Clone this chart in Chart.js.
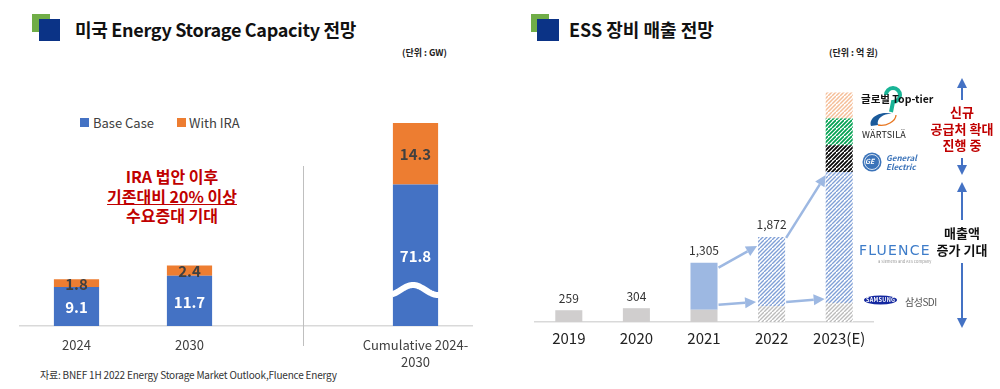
<!DOCTYPE html>
<html><head><meta charset="utf-8">
<script src="https://cdn.jsdelivr.net/npm/chart.js@4"></script>
<style>
body{margin:0;width:1000px;height:389px;position:relative;background:#fff;font-family:"Noto Sans CJK KR","Noto Sans",sans-serif;overflow:hidden}
.a{position:absolute;white-space:nowrap}
canvas{position:absolute;top:0}
</style></head><body>
<!-- titles -->
<div class="a" style="left:32px;top:14px;width:18px;height:18px;background:#70AD47"></div>
<div class="a" style="left:39px;top:19px;width:21px;height:22px;background:#0B3386"></div>
<div class="a" style="left:75px;top:16px;font-size:18px;font-weight:700;color:#111;line-height:26px;letter-spacing:-0.3px">미국 Energy Storage Capacity 전망</div>
<div class="a" style="left:531px;top:14px;width:18px;height:18px;background:#70AD47"></div>
<div class="a" style="left:537px;top:19px;width:22px;height:22px;background:#0B3386"></div>
<div class="a" style="left:569px;top:16px;font-size:18px;font-weight:700;color:#111;line-height:26px">ESS 장비 매출 전망</div>
<div class="a" style="left:402px;top:46px;font-size:9px;font-weight:700;color:#222">(단위 : GW)</div>
<div class="a" style="left:829px;top:46px;font-size:9px;font-weight:700;color:#222">(단위 : 억 원)</div>

<!-- legend -->
<div class="a" style="left:80px;top:118px;width:9px;height:9px;background:#4472C4"></div>
<div class="a" style="left:93px;top:114px;font-size:13px;color:#404040;line-height:18px">Base Case</div>
<div class="a" style="left:177px;top:118px;width:9px;height:9px;background:#ED7D31"></div>
<div class="a" style="left:189px;top:114px;font-size:13px;color:#404040;line-height:18px">With IRA</div>

<!-- red note -->
<div class="a" style="left:72px;width:200px;top:167px;text-align:center;font-size:16px;font-weight:700;color:#C00000;line-height:19.5px">IRA 법안 이후<br><span style="text-decoration:underline">기존대비 20% 이상</span><br>수요증대 기대</div>

<div class="a" style="left:40px;top:367px;font-size:10px;color:#333;letter-spacing:-0.2px">자료: BNEF 1H 2022 Energy Storage Market Outlook,Fluence Energy</div>

<canvas id="left" width="500" height="389" style="left:0"></canvas>
<canvas id="right" width="500" height="389" style="left:500px"></canvas>

<!-- logos -->
<svg class="a" style="left:0;top:0" width="1000" height="389">
  <path d="M886 95 A7 7 0 1 1 893 102 L891 112" fill="none" stroke="#19B496" stroke-width="4"/>
  <path d="M871 126 C 868 118, 880 110, 893 114 C 885 113, 876 118, 878 125 Z" fill="#1B5A9A"/>
  <path d="M878 125 C 886 127, 896 121, 896 115" fill="none" stroke="#E87722" stroke-width="1.3"/>
  <circle cx="872" cy="162" r="9.5" fill="#3B73B9"/>
  <circle cx="872" cy="162" r="7.5" fill="none" stroke="#fff" stroke-width="0.8"/>
  <ellipse cx="880.5" cy="300" rx="16.5" ry="4.5" fill="#1428A0"/>
  <!-- vertical arrows -->
  <g stroke="#4472C4" stroke-width="2" fill="#4472C4">
    <line x1="962" y1="87" x2="962" y2="100"/>
    <polygon points="962,78 957,88 967,88" stroke="none"/>
    <line x1="962" y1="158" x2="962" y2="166"/>
    <polygon points="962,175 957,165 967,165" stroke="none"/>
    <line x1="962" y1="191" x2="962" y2="220"/>
    <polygon points="962,182 957,192 967,192" stroke="none"/>
    <line x1="962" y1="263" x2="962" y2="319"/>
    <polygon points="962,328 957,318 967,318" stroke="none"/>
  </g>
</svg>
<div class="a" style="left:861px;top:91px;font-size:10.5px;font-weight:700;color:#111;line-height:16px">글로벌 Top-tier</div>
<div class="a" style="left:862px;top:129px;font-size:9px;color:#222;letter-spacing:0.2px;line-height:12px">WÄRTSILÄ</div>
<div class="a" style="left:865px;top:156px;font-size:7px;font-style:italic;font-weight:700;color:#fff;line-height:10px">GE</div>
<div class="a" style="left:886px;top:153px;font-size:8px;font-style:italic;font-weight:700;color:#3B73B9;line-height:9px">General<br>Electric</div>
<div class="a" style="left:859px;top:241px;font-size:14px;color:#3D7CC9;letter-spacing:1.2px;line-height:18px;font-family:'DejaVu Sans'">FLUENCE</div>
<div class="a" style="left:878px;top:259px;font-size:4px;color:#999;line-height:5px">a Siemens and AES company</div>
<div class="a" style="left:866px;top:296px;font-size:5.5px;font-weight:700;color:#fff;line-height:8px;letter-spacing:0.3px">SAMSUNG</div>
<div class="a" style="left:905px;top:295px;font-size:10px;color:#555;line-height:14px;letter-spacing:-0.5px">삼성SDI</div>

<div class="a" style="left:912px;width:100px;top:104px;text-align:center;font-size:13px;font-weight:700;color:#C00000;line-height:16.5px">신규<br>공급처 확대<br>진행 중</div>
<div class="a" style="left:912px;width:100px;top:224px;text-align:center;font-size:13px;font-weight:700;color:#111;line-height:17px">매출액<br>증가 기대</div>

<script>
// ---------- LEFT CHART DATA ----------
const leftCategories = ['2024', '2030', '', ['Cumulative 2024-', '2030']];
const baseCase = [9.1, 11.7, null, 71.8];
const withIRA = [1.8, 2.4, null, 14.3];
const axisBreakAt = 33; // bars taller than this are drawn with an axis break

// ---------- RIGHT CHART DATA ----------
const years = ['2019', '2020', '2021', '2022', '2023(E)'];
const samsungSDI = [259, 304, 270, 350, 420];
const fluence = [null, null, 1035, 1522, 2880];
const generalElectric = [null, null, null, null, 590];
const wartsila = [null, null, null, null, 590];
const topTier = [null, null, null, null, 570];
const totalLabels = [259, 304, 1305, 1872, null];

const FONT = '"Noto Sans CJK KR","Noto Sans",sans-serif';

function hatch(color, lw) {
  const s = 8;
  const c = document.createElement('canvas');
  c.width = s; c.height = s;
  const x = c.getContext('2d');
  x.fillStyle = '#fff'; x.fillRect(0, 0, s, s);
  x.strokeStyle = color; x.lineWidth = lw;
  x.beginPath();
  // two stripes per tile => 4px period
  [-4, 0, 4, 8].forEach(o => { x.moveTo(o, s); x.lineTo(o + s, 0); });
  x.stroke();
  return document.getElementById('left').getContext('2d').createPattern(c, 'repeat');
}

// ---------- LEFT CHART ----------
const leftPlugin = {
  id: 'leftDeco',
  afterDatasetsDraw(chart) {
    const ctx = chart.ctx;
    const xs = chart.scales.x;
    const dx = Math.round(xs.getPixelForValue(2)) + 0.5;
    ctx.save();
    ctx.strokeStyle = '#BFBFBF'; ctx.lineWidth = 1;
    ctx.beginPath(); ctx.moveTo(dx, 166); ctx.lineTo(dx, 346); ctx.stroke();
    const meta0 = chart.getDatasetMeta(0);
    baseCase.forEach((v, i) => {
      if (v != null && v > axisBreakAt) {
        const el = meta0.data[i];
        const x0 = el.x - el.width / 2 - 1, w = el.width + 2;
        const cy = chart.scales.y.getPixelForValue(8.4);
        ctx.strokeStyle = '#fff'; ctx.lineWidth = 6;
        ctx.beginPath();
        for (let k = 0; k <= 40; k++) {
          const px = x0 + w * k / 40;
          const py = cy + 5 * Math.cos(Math.PI * 0.15 + 2 * Math.PI * k / 40 * 0.95);
          k ? ctx.lineTo(px, py) : ctx.moveTo(px, py);
        }
        ctx.stroke();
      }
    });
    ctx.textAlign = 'center'; ctx.textBaseline = 'middle';
    ctx.font = 'bold 15px ' + FONT;
    chart.data.datasets.forEach((ds, di) => {
      const meta = chart.getDatasetMeta(di);
      meta.data.forEach((el, i) => {
        const v = ds.rawValues[i];
        if (v == null) return;
        ctx.fillStyle = ds.labelColor;
        ctx.fillText(v.toFixed(1), el.x, (el.y + el.base) / 2 + 1);
      });
    });
    ctx.restore();
  }
};

new Chart(document.getElementById('left'), {
  type: 'bar',
  data: {
    labels: leftCategories,
    datasets: [
      { label: 'Base Case', data: baseCase.map(v => v == null ? null : Math.min(v, axisBreakAt)),
        rawValues: baseCase, backgroundColor: '#4472C4', labelColor: '#fff' },
      { label: 'With IRA', data: withIRA, rawValues: withIRA, backgroundColor: '#ED7D31', labelColor: '#404040' }
    ]
  },
  options: {
    responsive: false, animation: false,
    layout: { padding: { left: 20, right: 28, top: 60, bottom: 0 } },
    datasets: { bar: { barPercentage: 0.4, categoryPercentage: 1 } },
    plugins: { legend: { display: false }, tooltip: { enabled: false } },
    scales: {
      x: { stacked: true, grid: { display: false, drawTicks: false },
        border: { color: '#D9D9D9', width: 1.5 },
        ticks: { color: '#404040', padding: 11, font: { family: FONT, size: 13, lineHeight: 1.3 } },
        afterFit(s) { s.height = 63; } },
      y: { stacked: true, display: false, min: 0, max: 62 }
    }
  },
  plugins: [leftPlugin]
});

// ---------- RIGHT CHART ----------
const gray = '#D0CECE';
const pGray = hatch('#BBBBBB', 1.4);
const pBlue = hatch('#7F9FD6', 1.4);
const pBlack = hatch('#000', 1.6);
const pGreen = hatch('#00A050', 1.7);
const pOrange = hatch('#F5BE98', 1.5);

function arrow(ctx, x1, y1, x2, y2) {
  const ang = Math.atan2(y2 - y1, x2 - x1);
  const L = 11, W = 5.5;
  const bx = x2 - L * Math.cos(ang), by = y2 - L * Math.sin(ang);
  ctx.beginPath(); ctx.moveTo(x1, y1); ctx.lineTo(bx, by); ctx.stroke();
  ctx.beginPath();
  ctx.moveTo(x2, y2);
  ctx.lineTo(bx + W * Math.sin(ang), by - W * Math.cos(ang));
  ctx.lineTo(bx - W * Math.sin(ang), by + W * Math.cos(ang));
  ctx.closePath(); ctx.fill();
}

const rightPlugin = {
  id: 'rightDeco',
  afterDatasetsDraw(chart) {
    const ctx = chart.ctx;
    ctx.save();
    ctx.font = '12px ' + FONT; ctx.fillStyle = '#333';
    ctx.textAlign = 'center'; ctx.textBaseline = 'middle';
    totalLabels.forEach((t, i) => {
      if (t == null) return;
      let top = null;
      chart.data.datasets.forEach((ds, di) => {
        if (ds.data[i] != null) top = chart.getDatasetMeta(di).data[i];
      });
      ctx.fillText(t.toLocaleString('en-US'), top.x, top.y - 12);
    });
    const sdi = chart.getDatasetMeta(0).data, flu = chart.getDatasetMeta(1).data;
    ctx.strokeStyle = '#9DB8E2'; ctx.fillStyle = '#9DB8E2'; ctx.lineWidth = 2.5;
    const r = el => el.x + el.width / 2, l = el => el.x - el.width / 2;
    arrow(ctx, r(flu[2]) + 1, flu[2].y + 5, l(flu[3]) - 1, flu[3].y + 9);
    arrow(ctx, r(sdi[2]) + 1, sdi[2].y - 5, l(sdi[3]) - 2, sdi[3].y - 4);
    arrow(ctx, r(flu[3]) + 1, flu[3].y + 1, l(flu[4]), flu[4].y + 3);
    arrow(ctx, r(sdi[3]) + 1, sdi[3].y - 4, l(sdi[4]) - 1, sdi[4].y - 4);
    ctx.restore();
  }
};

new Chart(document.getElementById('right'), {
  type: 'bar',
  data: {
    labels: years,
    datasets: [
      { label: '삼성SDI', data: samsungSDI, backgroundColor: [gray, gray, gray, pGray, pGray] },
      { label: 'Fluence', data: fluence, backgroundColor: ['#9DB8E2', '#9DB8E2', '#9DB8E2', pBlue, pBlue] },
      { label: 'General Electric', data: generalElectric, backgroundColor: pBlack },
      { label: 'Wärtsilä', data: wartsila, backgroundColor: pGreen },
      { label: '글로벌 Top-tier', data: topTier, backgroundColor: pOrange }
    ]
  },
  options: {
    responsive: false, animation: false,
    layout: { padding: { left: 35, right: 127, top: 72, bottom: 0 } },
    datasets: { bar: { barPercentage: 0.4, categoryPercentage: 1 } },
    plugins: { legend: { display: false }, tooltip: { enabled: false } },
    scales: {
      x: { stacked: true, grid: { display: false, drawTicks: false },
        border: { color: '#D9D9D9', width: 1.5 },
        ticks: { color: '#222', padding: 7, font: { family: FONT, size: 15 } },
        afterFit(s) { s.height = 67; } },
      y: { stacked: true, display: false, min: 0, max: 5500 }
    }
  },
  plugins: [rightPlugin]
});
</script>
</body></html>
